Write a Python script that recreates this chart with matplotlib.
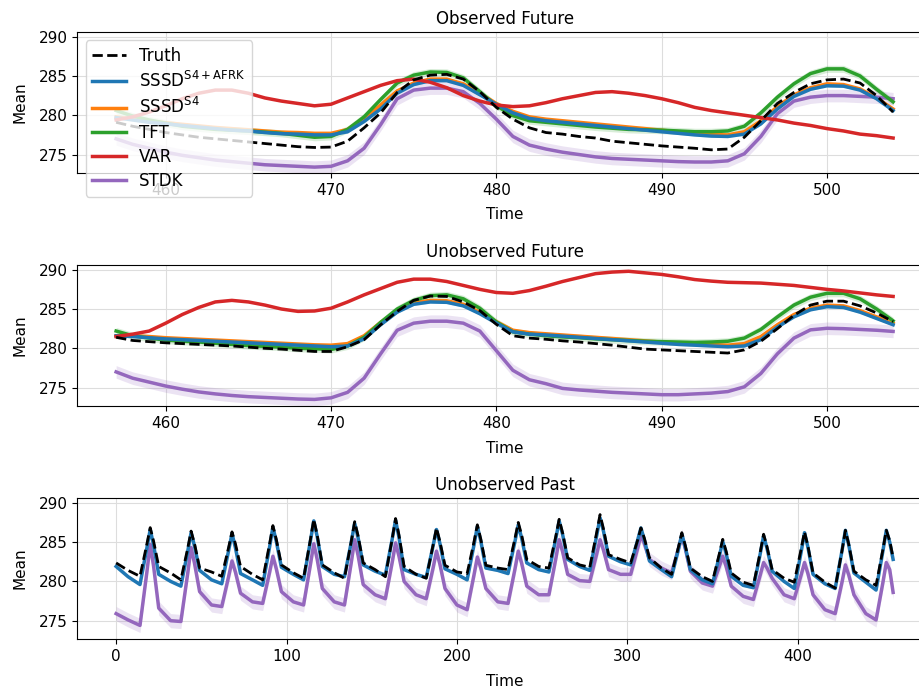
import numpy as np
import matplotlib
matplotlib.use('Agg')
import matplotlib.pyplot as plt

# Future window (observed / unobserved)
######################################
fut_t = np.arange(457, 505)

obs_truth = [279.1, 278.6, 278.2, 277.8, 277.5, 277.2, 277.0, 276.8, 276.6, 276.4,
             276.2, 276.0, 275.9, 275.95, 276.7, 278.4, 280.3, 282.9, 284.5, 285.1,
             285.2, 284.6, 283.0, 281.0, 279.5, 278.4, 277.8, 277.6, 277.3, 277.1,
             276.7, 276.5, 276.3, 276.1, 275.95, 275.8, 275.6, 275.7, 277.2, 279.3,
             281.5, 282.9, 284.0, 284.5, 284.6, 284.1, 282.5, 280.4]
obs_afrk = [279.7, 279.4, 279.1, 278.9, 278.7, 278.5, 278.3, 278.1, 278.0, 277.8,
            277.65, 277.6, 277.5, 277.5, 277.9, 279.2, 280.8, 282.8, 283.9, 284.4,
            284.4, 283.8, 282.6, 281.4, 280.3, 279.6, 279.3, 279.1, 278.9, 278.7,
            278.5, 278.3, 278.1, 277.9, 277.7, 277.5, 277.35, 277.3, 277.6, 278.9,
            280.8, 282.4, 283.3, 283.75, 283.7, 283.2, 282.1, 280.6]
obs_s4 = [279.8, 279.5, 279.25, 279.05, 278.85, 278.65, 278.45, 278.3, 278.15, 278.0,
          277.85, 277.8, 277.7, 277.7, 278.2, 279.6, 281.3, 283.1, 284.1, 284.6,
          284.6, 284.0, 282.8, 281.5, 280.5, 279.8, 279.5, 279.3, 279.1, 278.9,
          278.7, 278.5, 278.3, 278.1, 277.9, 277.7, 277.55, 277.5, 277.9, 279.3,
          281.1, 282.6, 283.5, 284.0, 283.9, 283.35, 282.2, 280.8]
obs_tft = [280.6, 279.9, 279.4, 279.0, 278.6, 278.4, 278.2, 278.1, 278.0, 277.85,
           277.7, 277.45, 277.2, 277.3, 278.2, 279.8, 282.0, 284.1, 285.1, 285.5,
           285.45, 284.75, 283.0, 281.2, 279.95, 279.3, 279.1, 278.9, 278.7, 278.5,
           278.35, 278.2, 278.15, 278.1, 278.0, 277.9, 277.9, 278.0, 278.6, 280.3,
           282.3, 284.0, 285.3, 285.9, 285.9, 285.0, 283.3, 281.7]
obs_var = [279.4, 279.8, 280.4, 281.2, 282.1, 282.8, 283.2, 283.2, 282.8, 282.2,
           281.8, 281.5, 281.2, 281.4, 282.2, 283.0, 283.8, 284.4, 284.6, 284.2,
           283.5, 282.5, 281.8, 281.3, 281.1, 281.2, 281.6, 282.1, 282.5, 282.9,
           283.0, 282.8, 282.5, 282.1, 281.6, 281.0, 280.6, 280.3, 280.0, 279.7,
           279.4, 279.0, 278.7, 278.3, 278.0, 277.6, 277.4, 277.1]
obs_stdk = [277.0, 276.3, 275.8, 275.3, 274.9, 274.6, 274.3, 274.1, 273.9, 273.7,
            273.6, 273.5, 273.4, 273.5, 274.2, 275.8, 278.8, 282.1, 283.2, 283.45,
            283.45, 283.0, 281.5, 279.5, 277.3, 276.2, 275.7, 275.3, 275.0, 274.7,
            274.5, 274.4, 274.3, 274.2, 274.1, 274.05, 274.05, 274.2, 275.1, 277.3,
            280.2, 281.8, 282.3, 282.5, 282.5, 282.4, 282.3, 282.1]

unobs_truth = [281.4, 281.0, 280.85, 280.7, 280.6, 280.5, 280.4, 280.3, 280.15, 280.0,
               279.9, 279.75, 279.6, 279.6, 280.2, 281.1, 283.0, 284.7, 286.1, 286.65,
               286.6, 285.9, 284.8, 283.05, 281.6, 281.3, 281.15, 280.95, 280.8, 280.6,
               280.4, 280.15, 279.9, 279.8, 279.7, 279.6, 279.5, 279.4, 279.8, 280.9,
               282.5, 284.2, 285.5, 286.0, 286.0, 285.4, 284.5, 283.4]
unobs_afrk = [281.6, 281.5, 281.35, 281.2, 281.1, 281.0, 280.9, 280.8, 280.7, 280.6,
              280.5, 280.4, 280.3, 280.2, 280.3, 281.2, 283.0, 284.6, 285.6, 285.9,
              285.85, 285.4, 284.4, 283.2, 282.1, 281.8, 281.7, 281.55, 281.4, 281.25,
              281.1, 280.95, 280.8, 280.65, 280.5, 280.4, 280.3, 280.2, 280.3, 281.1,
              282.7, 284.0, 284.9, 285.3, 285.2, 284.6, 283.8, 283.0]
unobs_s4 = [281.6, 281.6, 281.5, 281.35, 281.25, 281.15, 281.05, 280.95, 280.85, 280.75,
            280.65, 280.55, 280.45, 280.4, 280.6, 281.6, 283.3, 284.8, 285.8, 286.1,
            286.05, 285.6, 284.6, 283.4, 282.3, 282.0, 281.85, 281.7, 281.55, 281.4,
            281.25, 281.1, 280.95, 280.8, 280.7, 280.6, 280.5, 280.4, 280.6, 281.5,
            283.0, 284.3, 285.1, 285.5, 285.4, 284.8, 284.0, 283.2]
unobs_tft = [282.2, 281.6, 281.3, 281.05, 280.9, 280.8, 280.65, 280.5, 280.35, 280.25,
             280.15, 280.0, 279.95, 279.85, 280.3, 281.4, 283.3, 285.0, 286.1, 286.7,
             286.8, 286.3, 285.1, 283.35, 282.1, 281.8, 281.6, 281.45, 281.35, 281.2,
             281.1, 281.0, 280.9, 280.85, 280.8, 280.75, 280.8, 280.9, 281.3, 282.4,
             284.0, 285.5, 286.5, 287.0, 287.0, 286.3, 285.0, 283.5]
unobs_var = [281.5, 281.8, 282.2, 283.2, 284.3, 285.2, 285.9, 286.1, 285.9, 285.5,
             285.0, 284.7, 284.75, 285.1, 285.9, 286.8, 287.6, 288.4, 288.8, 288.8,
             288.5, 288.0, 287.5, 287.1, 287.0, 287.35, 287.9, 288.5, 289.0, 289.5,
             289.7, 289.8, 289.6, 289.4, 289.1, 288.75, 288.55, 288.4, 288.35, 288.3,
             288.15, 288.0, 287.75, 287.5, 287.3, 287.05, 286.8, 286.6]
unobs_stdk = [277.0, 276.2, 275.7, 275.2, 274.8, 274.45, 274.2, 274.0, 273.85, 273.75,
              273.65, 273.55, 273.5, 273.7, 274.4, 276.2, 279.3, 282.3, 283.2, 283.45,
              283.45, 283.2, 282.2, 279.7, 277.2, 276.0, 275.5, 274.9, 274.7, 274.55,
              274.4, 274.3, 274.2, 274.1, 274.1, 274.2, 274.3, 274.5, 275.1, 276.8,
              279.3, 281.3, 282.35, 282.55, 282.5, 282.4, 282.3, 282.15]

# Past window (imputation), key points of each daily cycle
######################################
past_t = [0, 7,
          14, 18, 20, 22, 25, 32,
          38, 42, 44, 46, 49, 56,
          62, 66, 68, 70, 73, 80,
          86, 90, 92, 94, 97, 104,
          110, 114, 116, 118, 121, 128,
          134, 138, 140, 142, 145, 152,
          158, 162, 164, 166, 169, 176,
          182, 186, 188, 190, 193, 200,
          206, 210, 212, 214, 217, 224,
          230, 234, 236, 238, 241, 248,
          254, 258, 260, 262, 265, 272,
          278, 282, 284, 286, 289, 296,
          302, 306, 308, 310, 313, 320,
          326, 330, 332, 334, 337, 344,
          350, 354, 356, 358, 361, 368,
          374, 378, 380, 382, 385, 392,
          398, 402, 404, 406, 409, 416,
          422, 426, 428, 430, 433, 440,
          446, 450, 452, 454, 456]
past_truth = [282.35, 281.4,
              280.65, 284.7, 286.84, 285.1, 281.9, 281.07,
              280.2, 284.2, 286.4, 284.8, 281.7, 281.2,
              280.65, 284.3, 286.3, 284.8, 281.9, 280.9,
              280.2, 284.7, 287.1, 285.35, 282.1, 281.1,
              280.4, 285.3, 287.9, 285.9, 282.1, 281.1,
              280.4, 285.1, 287.6, 285.8, 282.35, 281.5,
              280.6, 285.4, 288.0, 285.9, 281.9, 280.9,
              280.4, 284.6, 286.8, 285.1, 282.05, 281.2,
              281.0, 285.0, 287.2, 285.4, 282.05, 281.7,
              281.5, 285.4, 287.5, 285.9, 282.8, 281.9,
              281.7, 285.7, 287.9, 286.2, 283.0, 282.1,
              281.8, 286.2, 288.5, 286.7, 283.4, 282.8,
              282.35, 285.2, 286.8, 285.5, 283.0, 281.7,
              280.9, 284.35, 286.2, 284.6, 281.7, 280.6,
              280.0, 283.5, 285.35, 283.85, 281.07, 279.9,
              279.5, 283.7, 286.0, 284.4, 281.5, 280.4,
              279.9, 284.1, 286.3, 284.5, 281.07, 279.9,
              279.15, 283.9, 286.5, 284.7, 281.3, 280.2,
              279.5, 284.05, 286.5, 285.2, 283.0]
past_afrk = [281.9, 280.6,
             279.6, 284.2, 286.6, 284.6, 280.9, 280.0,
             279.4, 283.8, 286.2, 284.5, 281.4, 280.2,
             279.7, 283.9, 286.1, 284.3, 281.0, 280.2,
             279.5, 284.3, 286.9, 285.1, 281.8, 280.9,
             280.2, 285.1, 287.7, 285.7, 281.9, 280.9,
             280.6, 285.0, 287.4, 285.55, 282.1, 281.3,
             280.8, 285.35, 287.8, 285.6, 281.5, 280.9,
             280.5, 284.5, 286.6, 284.85, 281.6, 280.9,
             280.2, 284.6, 287.0, 285.15, 281.7, 281.4,
             281.0, 285.0, 287.2, 285.5, 282.35, 281.5,
             281.2, 285.4, 287.7, 286.0, 282.8, 281.9,
             281.4, 285.8, 288.1, 286.4, 283.2, 282.5,
             282.1, 285.2, 286.8, 285.3, 282.6, 281.5,
             280.6, 284.1, 286.0, 284.4, 281.5, 280.2,
             279.7, 283.2, 285.1, 283.55, 280.65, 279.5,
             279.2, 283.5, 285.8, 284.2, 281.3, 280.0,
             279.1, 283.7, 286.2, 284.35, 280.9, 279.7,
             279.1, 283.9, 286.5, 284.6, 281.07, 279.9,
             278.9, 283.85, 286.5, 285.0, 282.8]
past_stdk = [275.9, 275.1,
             274.4, 281.1, 284.7, 281.9, 276.6, 275.0,
             274.9, 281.0, 284.3, 282.3, 278.7, 277.0,
             276.8, 280.6, 282.6, 281.2, 278.5, 277.4,
             277.2, 281.1, 283.2, 281.6, 278.7, 277.4,
             277.0, 282.1, 284.8, 282.8, 279.1, 277.4,
             277.0, 282.4, 285.3, 283.3, 279.6, 278.3,
             277.8, 282.4, 284.9, 283.2, 280.0, 278.3,
             277.8, 281.7, 283.85, 282.2, 279.1, 277.0,
             276.4, 280.8, 283.1, 281.7, 279.1, 277.4,
             277.2, 281.5, 283.85, 282.3, 279.4, 278.3,
             278.3, 282.85, 285.3, 283.8, 280.9, 280.1,
             280.0, 283.45, 285.3, 284.0, 281.5, 280.9,
             280.9, 284.15, 285.9, 284.8, 282.8, 281.7,
             281.1, 284.15, 285.8, 284.2, 281.3, 279.8,
             279.4, 281.9, 283.2, 281.9, 279.4, 278.1,
             277.7, 280.8, 282.4, 281.7, 280.4, 278.3,
             277.8, 280.8, 282.4, 281.0, 278.3, 276.4,
             275.9, 279.9, 282.1, 280.8, 278.3, 275.9,
             275.1, 279.85, 282.4, 281.5, 278.6]

# half width of the shaded spread per model
band_afrk = 0.15
band_s4 = 0.15
band_tft = 0.45
band_stdk = 0.8
band_stdk_past = 0.9

labels = ['Truth', r'SSSD$^{\mathrm{S4+AFRK}}$', r'SSSD$^{\mathrm{S4}}$', 'TFT', 'VAR', 'STDK']
C_BLUE, C_ORANGE, C_GREEN, C_RED, C_PURPLE = '#1f77b4', '#ff7f0e', '#2ca02c', '#d62728', '#9467bd'


def band(ax, x, y, w, c):
    y = np.asarray(y)
    ax.fill_between(x, y - w, y + w, color=c, alpha=0.18, linewidth=0, zorder=1)


def future_panel(ax, truth, afrk, s4, tft, var, stdk):
    band(ax, fut_t, s4, band_s4, C_ORANGE)
    band(ax, fut_t, tft, band_tft, C_GREEN)
    band(ax, fut_t, afrk, band_afrk, C_BLUE)
    band(ax, fut_t, stdk, band_stdk, C_PURPLE)
    h_s4, = ax.plot(fut_t, s4, color=C_ORANGE, lw=2.5, zorder=2.0)
    h_tft, = ax.plot(fut_t, tft, color=C_GREEN, lw=2.5, zorder=2.1)
    h_afrk, = ax.plot(fut_t, afrk, color=C_BLUE, lw=2.5, zorder=2.2)
    h_var, = ax.plot(fut_t, var, color=C_RED, lw=2.5, zorder=2.3)
    h_stdk, = ax.plot(fut_t, stdk, color=C_PURPLE, lw=2.5, zorder=2.0)
    h_truth, = ax.plot(fut_t, truth, color='black', ls='--', lw=2, zorder=3)
    return [h_truth, h_afrk, h_s4, h_tft, h_var, h_stdk]


fig, axes = plt.subplots(3, 1, figsize=(9.2, 6.94), dpi=100)
fig.subplots_adjust(left=0.084, right=1.013, top=0.954, bottom=0.079, hspace=0.652)

handles = future_panel(axes[0], obs_truth, obs_afrk, obs_s4, obs_tft, obs_var, obs_stdk)
future_panel(axes[1], unobs_truth, unobs_afrk, unobs_s4, unobs_tft, unobs_var, unobs_stdk)

ax = axes[2]
band(ax, past_t, past_stdk, band_stdk_past, C_PURPLE)
band(ax, past_t, past_afrk, band_afrk, C_BLUE)
ax.plot(past_t, past_stdk, color=C_PURPLE, lw=2.5, zorder=2)
ax.plot(past_t, past_afrk, color=C_BLUE, lw=2.5, zorder=2.2)
ax.plot(past_t, past_truth, color='black', ls='--', lw=2, zorder=3)

titles = ['Observed Future', 'Unobserved Future', 'Unobserved Past']
for ax, title in zip(axes, titles):
    ax.set_title(title, fontsize=12)
    ax.set_xlabel('Time', fontsize=11, labelpad=7)
    ax.set_ylabel('Mean', fontsize=11, labelpad=8)
    ax.set_ylim(272.65, 290.6)
    ax.set_yticks([275, 280, 285, 290])
    ax.tick_params(labelsize=11)
    ax.grid(True, color='#dddddd', lw=0.8)
    ax.set_axisbelow(True)

axes[0].legend(handles, labels, loc='upper left', fontsize=12, labelspacing=0.37)

fig.savefig('out.png', dpi=100)
